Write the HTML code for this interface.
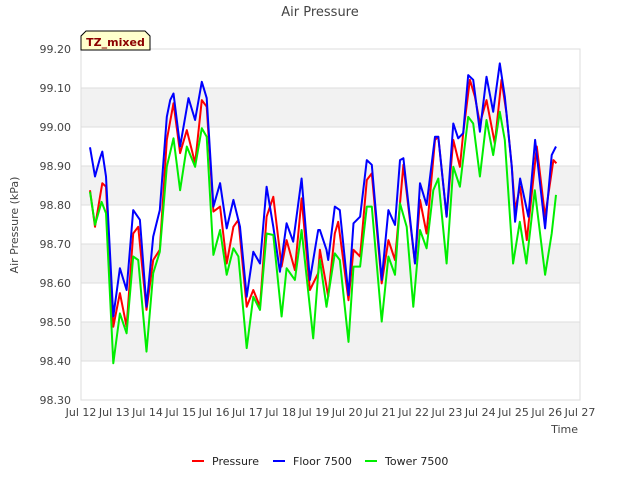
<!DOCTYPE html>
<html><head><meta charset="utf-8"><style>
body{margin:0;background:#fff;}
svg{display:block;font-family:"DejaVu Sans","Liberation Sans",sans-serif;}
</style></head><body>
<svg id="chart" width="640" height="480" viewBox="0 0 640 480">
<text x="320" y="16" text-anchor="middle" font-size="13" fill="#444">Air Pressure</text>
<g id="bands"></g>
<g id="grid"></g>
<rect x="81" y="49" width="499" height="351" fill="none" stroke="#ddd"/>
<g id="yticks"></g>
<g id="xticks"></g>
<g id="series"></g>
<text x="18" y="225" transform="rotate(-90 18 225)" text-anchor="middle" font-size="11" fill="#444">Air Pressure (kPa)</text>
<text x="578" y="433" text-anchor="end" font-size="11" fill="#444">Time</text>
<g>
<path d="M81,50 L81,36 L86,31 L145,31 L150,36 L150,50 Z" fill="#ffffcc" stroke="#000" stroke-width="1"/>
<text x="115.5" y="46" text-anchor="middle" font-size="11" font-weight="bold" fill="#8b0000">TZ_mixed</text>
</g>
<g>
<g><line x1="192" y1="461" x2="204" y2="461" stroke="#ff0000" stroke-width="2"/><text x="212" y="465" font-size="11" fill="#222">Pressure</text></g>
<g><line x1="273" y1="461" x2="285" y2="461" stroke="#0000ff" stroke-width="2"/><text x="293" y="465" font-size="11" fill="#222">Floor 7500</text></g>
<g><line x1="365" y1="461" x2="377" y2="461" stroke="#00ee00" stroke-width="2"/><text x="385" y="465" font-size="11" fill="#222">Tower 7500</text></g>
</g>
</svg>
<script>
const yTicks=[98.30,98.40,98.50,98.60,98.70,98.80,98.90,99.00,99.10,99.20];
const xTickLabels=["Jul 12","Jul 13","Jul 14","Jul 15","Jul 16","Jul 17","Jul 18","Jul 19","Jul 20","Jul 21","Jul 22","Jul 23","Jul 24","Jul 25","Jul 26","Jul 27"];
const pressureDays=[0.27,0.42,0.57,0.64,0.75,0.97,1.17,1.37,1.57,1.72,1.97,2.17,2.37,2.58,2.78,2.98,3.18,3.43,3.63,3.78,3.98,4.18,4.38,4.58,4.73,4.98,5.18,5.38,5.58,5.78,6.03,6.18,6.43,6.63,6.88,7.13,7.18,7.38,7.43,7.63,7.73,8.04,8.19,8.39,8.59,8.74,9.04,9.24,9.44,9.59,9.69,10.04,10.19,10.39,10.64,10.74,10.99,11.19,11.39,11.49,11.69,11.84,11.99,12.19,12.44,12.64,12.79,12.95,13.05,13.2,13.4,13.7,13.95,14.2,14.29];
const pressureVals=[98.838,98.744,98.821,98.856,98.847,98.488,98.574,98.488,98.727,98.744,98.531,98.659,98.685,98.967,99.061,98.933,98.992,98.907,99.069,99.052,98.783,98.796,98.65,98.744,98.762,98.539,98.582,98.539,98.77,98.821,98.642,98.71,98.633,98.817,98.582,98.625,98.685,98.591,98.565,98.727,98.757,98.556,98.685,98.668,98.864,98.881,98.599,98.71,98.659,98.804,98.903,98.65,98.813,98.727,98.967,98.975,98.77,98.967,98.898,98.984,99.121,99.078,99.009,99.069,98.958,99.121,99.035,98.898,98.787,98.847,98.71,98.95,98.77,98.915,98.907];
const floorDays=[0.27,0.42,0.57,0.64,0.75,0.97,1.17,1.37,1.57,1.77,1.97,2.17,2.37,2.58,2.68,2.78,2.98,3.23,3.43,3.63,3.78,3.98,4.18,4.38,4.58,4.78,4.98,5.18,5.38,5.58,5.78,5.98,6.18,6.38,6.63,6.88,7.13,7.18,7.38,7.43,7.63,7.78,8.04,8.19,8.39,8.59,8.74,9.04,9.24,9.44,9.59,9.69,10.04,10.19,10.39,10.64,10.74,10.99,11.19,11.34,11.49,11.64,11.79,11.99,12.19,12.39,12.59,12.74,12.95,13.05,13.2,13.45,13.65,13.95,14.15,14.28];
const floorVals=[98.948,98.873,98.92,98.937,98.873,98.514,98.638,98.582,98.787,98.762,98.539,98.719,98.787,99.026,99.069,99.086,98.95,99.074,99.018,99.116,99.074,98.796,98.856,98.74,98.813,98.744,98.565,98.68,98.65,98.847,98.744,98.629,98.753,98.706,98.868,98.608,98.736,98.736,98.685,98.659,98.796,98.787,98.569,98.753,98.77,98.915,98.903,98.608,98.787,98.749,98.915,98.92,98.65,98.856,98.8,98.975,98.975,98.77,99.009,98.971,98.984,99.133,99.121,98.988,99.129,99.039,99.163,99.078,98.898,98.757,98.868,98.77,98.967,98.74,98.928,98.95];
const towerDays=[0.27,0.42,0.62,0.75,0.97,1.17,1.37,1.57,1.72,1.97,2.17,2.37,2.58,2.78,2.98,3.18,3.43,3.63,3.78,3.98,4.18,4.38,4.58,4.73,4.98,5.18,5.38,5.58,5.78,6.03,6.18,6.43,6.63,6.98,7.13,7.18,7.38,7.63,7.78,8.04,8.19,8.39,8.59,8.74,9.04,9.24,9.44,9.59,9.79,9.99,10.19,10.39,10.59,10.74,10.99,11.19,11.39,11.64,11.79,11.99,12.19,12.39,12.59,12.74,12.99,13.19,13.39,13.64,13.95,14.15,14.28];
const towerVals=[98.834,98.749,98.808,98.779,98.394,98.522,98.471,98.668,98.659,98.424,98.625,98.68,98.898,98.971,98.838,98.95,98.898,98.997,98.975,98.672,98.736,98.621,98.689,98.668,98.433,98.565,98.531,98.727,98.723,98.514,98.638,98.608,98.736,98.458,98.625,98.659,98.539,98.676,98.659,98.449,98.642,98.642,98.796,98.796,98.501,98.668,98.621,98.804,98.744,98.539,98.736,98.689,98.838,98.868,98.65,98.898,98.847,99.026,99.009,98.873,99.018,98.928,99.039,98.967,98.65,98.757,98.65,98.838,98.621,98.727,98.826];

const L=81,R=580,T=49,B=400,YMIN=98.3,YMAX=99.2,XMAX=15;
const xS=d=>L+(R-L)*d/XMAX;
const yS=v=>B-(B-T)*(v-YMIN)/(YMAX-YMIN);
const NS="http://www.w3.org/2000/svg";
function mk(tag,attrs,parent){const e=document.createElementNS(NS,tag);for(const k in attrs)e.setAttribute(k,attrs[k]);parent.appendChild(e);return e;}
const bands=document.getElementById('bands'),grid=document.getElementById('grid'),yt=document.getElementById('yticks'),xt=document.getElementById('xticks'),ser=document.getElementById('series');
for(let i=0;i<yTicks.length-1;i++){
  if(i%2===1){const r=mk('rect',{x:L,y:yS(yTicks[i+1]),width:R-L,height:yS(yTicks[i])-yS(yTicks[i+1]),fill:'#f2f2f2'},bands);
  
  }
}
yTicks.forEach(v=>{
  const g=mk('line',{x1:L,x2:R,y1:yS(v),y2:yS(v),stroke:'#ddd','stroke-width':1},grid);
  
  
  const t=mk('text',{x:71,y:yS(v)+4,'text-anchor':'end','font-size':11,fill:'#444'},yt);
  t.textContent=v.toFixed(2);
  
  
});
xTickLabels.forEach((s,i)=>{
  const t=mk('text',{x:xS(i),y:416,'text-anchor':'middle','font-size':11,fill:'#444'},xt);
  t.textContent=s;
  
  
});
function line(days,vals,color,name){
  const pts=days.map((d,i)=>xS(d).toFixed(1)+','+yS(vals[i]).toFixed(1)).join(' ');
  const p=mk('polyline',{points:pts,fill:'none',stroke:color,'stroke-width':2,'stroke-linejoin':'round'},ser);
  
  
}
line(pressureDays,pressureVals,'#ff0000','pressure-line');
line(floorDays,floorVals,'#0000ff','floor-7500-line');
line(towerDays,towerVals,'#00ee00','tower-7500-line');
</script>
</body></html>
